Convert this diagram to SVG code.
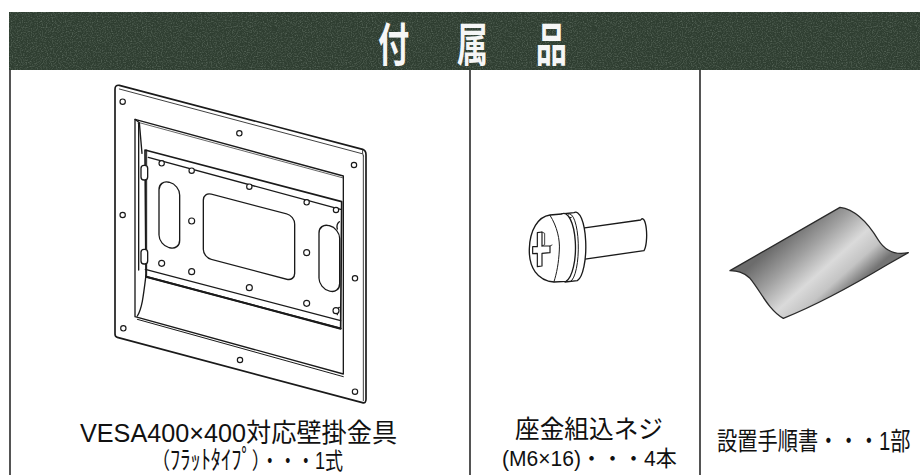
<svg xmlns="http://www.w3.org/2000/svg" width="920" height="475" viewBox="0 0 920 475">
<defs>
<style>
.lbl{font-family:"Liberation Sans","Noto Sans CJK JP",sans-serif;fill:#111;}
.grid{stroke:#2a2a2a;stroke-width:1.6;fill:none;}
.ln{fill:none;stroke:#1a1a1a;stroke-linejoin:round;stroke-linecap:round;}
.hole{fill:#fff;stroke:#1a1a1a;stroke-width:3.5;}
</style>
<filter id="grain" x="0" y="0" width="100%" height="100%">
<feTurbulence type="fractalNoise" baseFrequency="0.8" numOctaves="2" seed="7" result="n"/>
<feColorMatrix in="n" type="matrix" values="0 0 0 0 0.42  0 0 0 0 0.5  0 0 0 0 0.43  0 0 0 1.6 -0.7"/>
</filter>
<linearGradient id="paper" gradientUnits="userSpaceOnUse" x1="250" y1="140" x2="420" y2="330">
<stop offset="0" stop-color="#6c6c6c"/>
<stop offset="0.3" stop-color="#a0a0a0"/>
<stop offset="0.6" stop-color="#dadada"/>
<stop offset="0.8" stop-color="#c4c4c4"/>
<stop offset="1" stop-color="#747474"/>
</linearGradient>
</defs>

<g id="header">
<rect x="9" y="12" width="911" height="58" fill="#2f3e31"/>
<rect x="9" y="12" width="911" height="58" filter="url(#grain)" opacity="0.45"/>
<text transform="translate(476,61) scale(0.68,1)" text-anchor="middle" font-family="'Noto Sans CJK JP',sans-serif" font-weight="700" font-size="46" fill="#f6f6f6"><tspan x="-116">付</tspan> <tspan x="0">属</tspan> <tspan x="111">品</tspan></text>
</g>

<g id="connectors">
<g id="grid" class="grid">
<line x1="10" y1="70" x2="10" y2="475"/>
<line x1="470" y1="70" x2="470" y2="475"/>
<line x1="700" y1="70" x2="700" y2="475"/>
</g>
</g>

<g id="item-bracket">
<g transform="translate(80,70) scale(0.333333)" class="ln" stroke-width="4">
<path d="M105,58 Q105,44 118,46 L848,238 Q858,242 858,254 L858,988 Q858,1001 847,998 L112,802 Q105,800 105,792 Z" fill="#fff" stroke-width="5"/>
<path d="M118,57 L846,251" stroke-width="2.5"/>
<path d="M848,238 Q846,250 850,258" stroke-width="2.5"/>
<path d="M850,258 L850,992" stroke-width="2.5"/>
<path d="M165,148 L790,318 L790,912 L165,740 Z" fill="#fff"/>
<path d="M165,148 L178,158 L186,250"/>
<path d="M178,158 L790,324" stroke-width="2"/>
<path d="M176,160 L176,600"/>
<path d="M198,615 C190,680 186,715 172,738"/>
<path d="M172,748 L790,920" stroke-width="3"/>
<path d="M195,240 L785,395 L782,775 L198,620 Z" fill="#fff" stroke-width="5"/>
<path d="M205,262 L782,418" stroke-width="4"/>
<path d="M196,598 L782,752" stroke-width="4"/>
<path d="M198,620 L782,776" stroke-width="6"/>
<path d="M200,240 L200,620" stroke-width="3"/>
<rect x="183" y="286" width="20" height="44" rx="9" fill="#fff"/>
<rect x="183" y="538" width="20" height="44" rx="9" fill="#fff"/>
<path d="M778,455 q-10,8 -6,22"/>
<path d="M778,712 q-10,8 -6,22"/>
<g transform="translate(268,435) skewY(14.7)">
<rect x="-31" y="-98" width="62" height="196" rx="30" fill="#fff"/>
</g>
<g transform="translate(507,500) skewY(14.7)">
<rect x="-137" y="-98" width="274" height="196" rx="24" fill="#fff"/>
</g>
<g transform="translate(748,565) skewY(14.7)">
<rect x="-31" y="-98" width="62" height="196" rx="30" fill="#fff"/>
</g>
<g class="hole">
<circle cx="128" cy="95" r="8"/>
<circle cx="478" cy="190" r="8"/>
<circle cx="822" cy="285" r="8"/>
<circle cx="128" cy="435" r="8"/>
<circle cx="825" cy="625" r="8"/>
<circle cx="130" cy="775" r="8"/>
<circle cx="480" cy="870" r="8"/>
<circle cx="825" cy="965" r="8"/>
<circle cx="245" cy="280" r="8"/>
<circle cx="335" cy="302" r="8"/>
<circle cx="508" cy="350" r="8"/>
<circle cx="680" cy="397" r="8"/>
<circle cx="768" cy="420" r="8"/>
<circle cx="335" cy="453" r="9"/>
<circle cx="680" cy="548" r="9"/>
<circle cx="245" cy="580" r="9"/>
<circle cx="335" cy="605" r="9"/>
<circle cx="508" cy="653" r="9"/>
<circle cx="680" cy="700" r="9"/>
<circle cx="768" cy="722" r="9"/>
</g>
</g>
<text class="lbl" transform="translate(80,442) scale(0.97,1)" font-size="26" textLength="327" lengthAdjust="spacingAndGlyphs">VESA400×400対応壁掛金具</text>
<text class="lbl" transform="translate(152,469) scale(0.71,1)" font-size="23" textLength="269" lengthAdjust="spacingAndGlyphs">（<tspan font-size="26">ﾌﾗｯﾄﾀｲﾌﾟ</tspan>）・・・1式</text>
</g>

<g id="item-screw">
<g transform="translate(500,190) scale(0.333333)" class="ln" stroke-width="4">
<path d="M238,116 L422,90 A12,46 0 0 1 432,182 L250,208 Z" fill="#fff"/>
<path d="M185,72 L222,68 A30,102 0 0 1 232,272 L195,276 Z" fill="#fff"/>
<path d="M205,72 A26,100 0 0 1 212,274" stroke-width="3"/>
<path d="M190,88 L214,82" stroke-width="3"/>
<path d="M150,75 L185,72 A34,100 0 0 1 198,274 L162,276 C112,272 86,232 88,176 C90,120 114,80 150,75 Z" fill="#fff"/>
<path d="M150,76 C172,110 180,150 178,180 C176,220 170,250 162,275" stroke-width="3"/>
<path d="M112,128 L126,126 L126,168 L150,168 L150,188 L126,190 L126,228 L112,230 L112,190 L98,191 L98,170 L112,170 Z" fill="#fff" stroke-width="3.5"/>
<path d="M126,168 L134,164 L134,130 L126,126 M150,168 L156,165" stroke-width="2.5"/>
</g>
<text class="lbl" x="515" y="438" font-size="25" textLength="148" lengthAdjust="spacingAndGlyphs">座金組込ネジ</text>
<text class="lbl" transform="translate(502,466) scale(0.96,1)" font-size="22" textLength="182" lengthAdjust="spacingAndGlyphs">(M6×16)・・・4本</text>
</g>

<g id="item-manual">
<g transform="translate(700,190) scale(0.333333)">
<path d="M90,242 L420,52 C465,58 505,100 535,150 C555,182 585,196 625,188 L560,225 C460,285 350,345 250,385 C205,360 180,300 150,265 C130,245 110,243 90,242 Z" fill="url(#paper)" stroke="#2a2a2a" stroke-width="4" stroke-linejoin="round"/>
</g>
<text class="lbl" transform="translate(717,450) scale(0.81,1)" font-size="25" textLength="239" lengthAdjust="spacingAndGlyphs">設置手順書・・・1部</text>
</g>
</svg>
